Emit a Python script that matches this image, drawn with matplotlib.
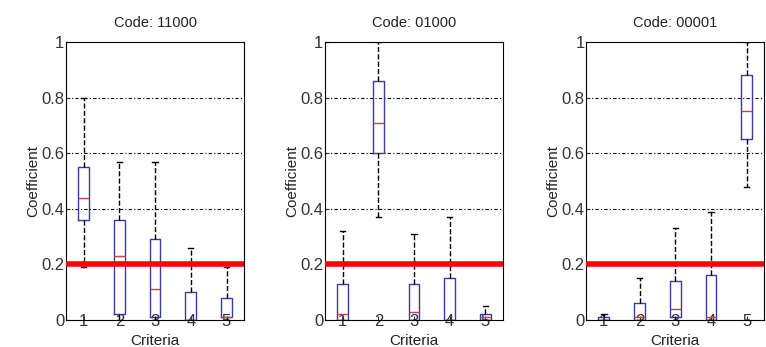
import matplotlib.pyplot as plt
import numpy as np

plt.rcParams['font.family'] = ['Liberation Sans', 'DejaVu Sans']

titles = ["Code: 11000", "Code: 01000", "Code: 00001"]
criteria = [1, 2, 3, 4, 5]

# per panel, per criterion: lower whisker, q1, median, q3, upper whisker
lo_whisk = [[0.19, 0.0, 0.0, 0.0, 0.0],
            [0.0, 0.37, 0.0, 0.0, 0.0],
            [0.0, 0.0, 0.0, 0.0, 0.48]]
q1 = [[0.36, 0.02, 0.01, 0.0, 0.01],
      [0.0, 0.60, 0.0, 0.0, 0.0],
      [0.0, 0.0, 0.01, 0.0, 0.65]]
med = [[0.44, 0.23, 0.11, 0.0, 0.01],
       [0.02, 0.71, 0.03, 0.0, 0.01],
       [0.0, 0.01, 0.04, 0.01, 0.75]]
q3 = [[0.55, 0.36, 0.29, 0.10, 0.08],
      [0.13, 0.86, 0.13, 0.15, 0.02],
      [0.01, 0.06, 0.14, 0.16, 0.88]]
hi_whisk = [[0.80, 0.57, 0.57, 0.26, 0.19],
            [0.32, 1.00, 0.31, 0.37, 0.05],
            [0.02, 0.15, 0.33, 0.39, 1.00]]
threshold = 0.2

fig = plt.figure(figsize=(7.66, 3.47), dpi=100)
lefts = [0.086, 0.424, 0.765]

for p in range(3):
    ax = fig.add_axes([lefts[p], 0.078, 0.233, 0.801])
    stats = []
    for i in range(5):
        stats.append(dict(whislo=lo_whisk[p][i], q1=q1[p][i], med=med[p][i],
                          q3=q3[p][i], whishi=hi_whisk[p][i], fliers=[]))
    for yg in [0.2, 0.4, 0.6, 0.8]:
        ax.axhline(yg, color='black', linestyle=(0, (3, 2, 1, 2)), linewidth=0.8, zorder=0)
    ax.bxp(stats, positions=criteria, widths=0.3, showfliers=False,
           boxprops=dict(color='#3a3aa0', linewidth=1.0),
           medianprops=dict(color='#d04040', linewidth=1.0),
           whiskerprops=dict(color='black', linestyle='--', linewidth=1.0),
           capprops=dict(color='black', linewidth=1.0),
           capwidths=0.15)
    ax.axhline(threshold, color='red', linewidth=4, zorder=5)
    ax.set_xlim(0.5, 5.5)
    ax.set_ylim(0, 1)
    ax.set_xticks(criteria)
    ax.set_xticklabels([str(c) for c in criteria])
    ax.set_yticks([0, 0.2, 0.4, 0.6, 0.8, 1])
    ax.set_yticklabels(['0', '0.2', '0.4', '0.6', '0.8', '1'])
    ax.tick_params(labelsize=12, length=3, direction='in', colors='#333333')
    ax.tick_params(axis='y', pad=1)
    ax.tick_params(axis='x', pad=-4)
    for lab in ax.get_xticklabels():
        lab.set_zorder(6)
    ax.set_title(titles[p], fontsize=10.5, pad=11, color='#222222')
    ax.set_ylabel('Coefficient', fontsize=11, labelpad=1, color='#222222')
    ax.set_xlabel('Criteria', fontsize=11, labelpad=3, color='#222222')

plt.savefig("out.png", dpi=100)
